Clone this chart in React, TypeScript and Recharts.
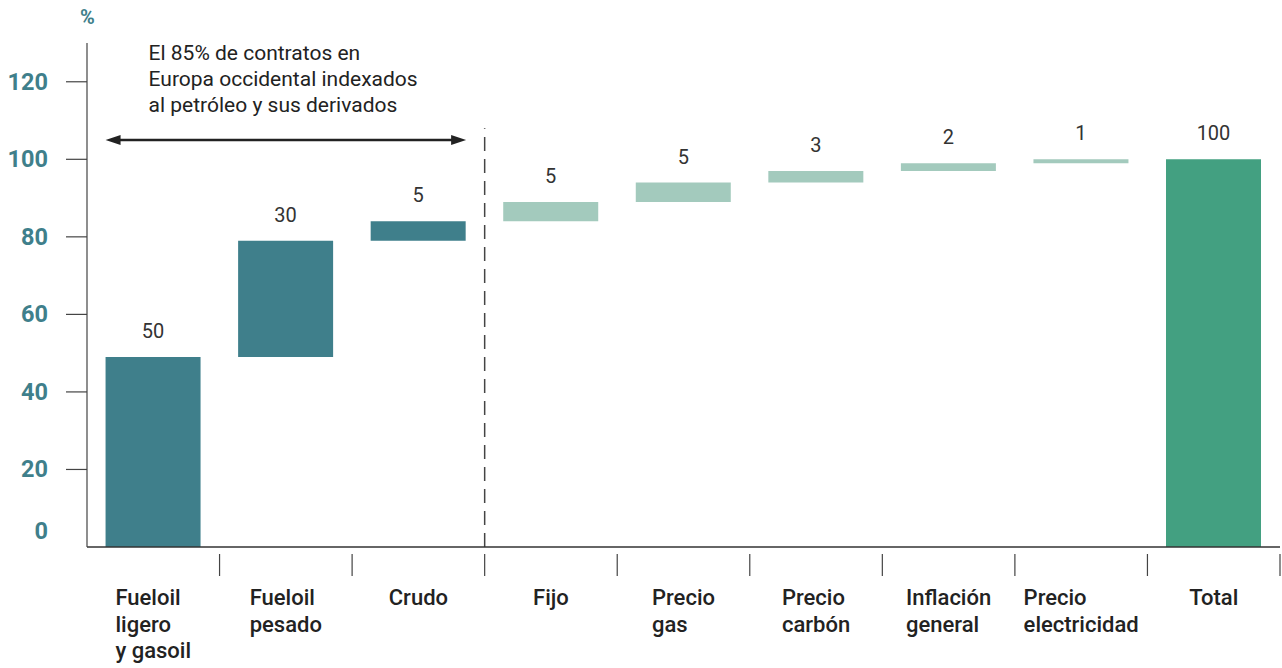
import React from 'react';
import {
  BarChart,
  Bar,
  XAxis,
  YAxis,
  Cell,
  LabelList,
  ReferenceLine,
} from 'recharts';

const categories = [
  'Fueloil\nligero\ny gasoil',
  'Fueloil\npesado',
  'Crudo',
  'Fijo',
  'Precio\ngas',
  'Precio\ncarbón',
  'Inflación\ngeneral',
  'Precio\nelectricidad',
  'Total',
];
const bases = [0, 49, 79, 84, 89, 94, 97, 99, 0];
const values = [49, 30, 5, 5, 5, 3, 2, 1, 100];
const valueLabels = ['50', '30', '5', '5', '5', '3', '2', '1', '100'];
const groups = ['oil', 'oil', 'oil', 'other', 'other', 'other', 'other', 'other', 'total'];
const yTicks = [0, 20, 40, 60, 80, 100, 120];
const annotationLines = [
  'El 85% de contratos en',
  'Europa occidental indexados',
  'al petróleo y sus derivados',
];

const colors: Record<string, string> = {
  oil: '#3F7F8B',
  other: '#A3CABD',
  total: '#43A081',
};

const FONT = 'Roboto, "Noto Sans", sans-serif';
const TEAL = '#3F7F8B';
const W = 1282;
const H = 668;
const AXIS_X = 87;
const PLOT_W = W - AXIS_X - 2;
const BAND = PLOT_W / categories.length;

const data = categories.map((name, i) => ({
  name,
  base: bases[i],
  value: values[i],
  label: valueLabels[i],
  group: groups[i],
}));

let ctx: CanvasRenderingContext2D | null = null;
const measure = (text: string, font: string) => {
  if (!ctx) ctx = document.createElement('canvas').getContext('2d');
  if (!ctx) return text.length * 11;
  ctx.font = font;
  return ctx.measureText(text).width;
};

const YTick = (props: any) => {
  const { y, payload } = props;
  const isZero = payload.value === 0;
  return (
    <g>
      {!isZero && <line x1={AXIS_X - 21} x2={AXIS_X} y1={y} y2={y} stroke="#444" strokeWidth={1.2} />}
      <text
        x={48}
        y={isZero ? y - 16 : y}
        dy={8}
        textAnchor="end"
        fontFamily={FONT}
        fontWeight={700}
        fontSize={23.5}
        fill={TEAL}
      >
        {payload.value}
      </text>
    </g>
  );
};

const XTick = (props: any) => {
  const { x, y, payload } = props;
  const lines = String(payload.value).split('\n');
  const font = `500 22px ${FONT}`;
  const blockW = Math.max(...lines.map((l) => measure(l, font)));
  const left = x - blockW / 2;
  return (
    <g>
      <line x1={x + BAND / 2} x2={x + BAND / 2} y1={y - 1} y2={y + 21} stroke="#444" strokeWidth={1.2} />
      {lines.map((l, i) => (
        <text
          key={i}
          x={left}
          y={y + 50 + i * 26.5}
          textAnchor="start"
          fontFamily={FONT}
          fontWeight={500}
          fontSize={22}
          fill="#222"
        >
          {l}
        </text>
      ))}
    </g>
  );
};

const ArrowShape = (props: any) => {
  const { x1, x2, y1 } = props;
  const half = BAND * 0.36;
  const a = x1 - half;
  const b = x2 + half;
  const head = 15;
  return (
    <g>
      <line x1={a + head - 2} x2={b - head + 2} y1={y1} y2={y1} stroke="#222" strokeWidth={2.5} />
      <polygon points={`${a},${y1} ${a + head},${y1 - 5} ${a + head},${y1 + 5}`} fill="#222" />
      <polygon points={`${b},${y1} ${b - head},${y1 - 5} ${b - head},${y1 + 5}`} fill="#222" />
      {annotationLines.map((t, i) => (
        <text
          key={i}
          x={a + 43}
          y={y1 - 80 + i * 26}
          fontFamily={FONT}
          fontSize={21}
          fill="#222"
        >
          {t}
        </text>
      ))}
    </g>
  );
};

export default function App() {
  return (
    <div style={{ position: 'absolute', left: 0, top: 0, width: W, height: H, background: '#fff' }}>
      <div
        style={{
          position: 'absolute',
          left: 80,
          top: 4,
          fontFamily: FONT,
          fontWeight: 700,
          fontSize: 20,
          lineHeight: '26px',
          color: TEAL,
        }}
      >
        %
      </div>
      <BarChart
        width={W}
        height={H}
        data={data}
        margin={{ top: 43, right: 2, left: 0, bottom: 11 }}
        barCategoryGap="14%"
      >
        <XAxis
          dataKey="name"
          interval={0}
          height={110}
          tickLine={false}
          axisLine={{ stroke: '#333', strokeWidth: 1.5 }}
          tick={<XTick />}
        />
        <YAxis
          domain={[0, 130]}
          ticks={yTicks}
          interval={0}
          width={AXIS_X}
          tickLine={false}
          axisLine={{ stroke: '#444', strokeWidth: 1.2 }}
          tick={<YTick />}
        />
        <Bar dataKey="base" stackId="a" fill="transparent" isAnimationActive={false} />
        <Bar dataKey="value" stackId="a" isAnimationActive={false}>
          {data.map((d, i) => (
            <Cell key={i} fill={colors[d.group]} />
          ))}
          <LabelList
            dataKey="label"
            position="top"
            offset={19}
            fontFamily={FONT}
            fontSize={20}
            fill="#333"
          />
        </Bar>
        <ReferenceLine
          segment={[
            { x: categories[2], y: 0 },
            { x: categories[2], y: 108 },
          ]}
          position="end"
          stroke="#444"
          strokeWidth={1.5}
          strokeDasharray="14 8"
        />
        <ReferenceLine
          segment={[
            { x: categories[0], y: 105 },
            { x: categories[2], y: 105 },
          ]}
          shape={<ArrowShape />}
        />
      </BarChart>
    </div>
  );
}
